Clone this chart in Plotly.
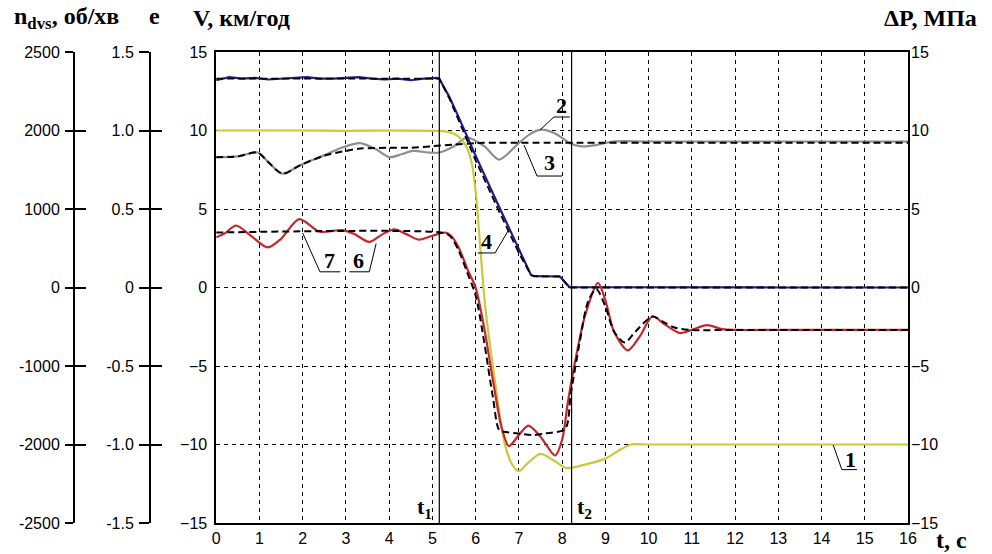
import plotly.graph_objects as go

# ---------------- data ----------------
X_TICKS = list(range(0, 17))
Y_TICKS = [-15, -10, -5, 0, 5, 10, 15]
N_TICKTEXT = ["-2500", "-2000", "-1000", "0", "1000", "2000", "2500"]
E_TICKTEXT = ["-1.5", "-1.0", "-0.5", "0", "0.5", "1.0", "1.5"]
T_MARKS = [5.16, 8.22]

# curve 4 (blue) and its dashed companion
t_blue = [0, 0.3, 0.6, 0.9, 1.2, 1.5, 1.8, 2.1, 2.4, 2.7, 3.0, 3.3, 3.6, 3.9, 4.2,
          4.5, 4.8, 5.1, 5.16, 5.4, 5.6, 6.0, 6.5, 7.0, 7.28, 7.35, 7.95, 8.17,
          9, 10, 11, 12, 13, 14, 15, 16]
v_blue = [13.2, 13.4, 13.3, 13.35, 13.25, 13.3, 13.35, 13.4, 13.3, 13.3, 13.35,
          13.4, 13.3, 13.25, 13.3, 13.2, 13.3, 13.35, 13.3, 12.1, 10.9, 8.4, 5.4,
          2.4, 0.8, 0.72, 0.7, 0.03, 0.02, 0.0, 0.0, 0.0, 0.0, 0.0, 0.0, 0.0]
t_blue_d = [0, 5.16, 5.4, 5.6, 6.0, 6.5, 7.0, 7.28, 7.35, 7.95, 8.17, 16]
v_blue_d = [13.3, 13.3, 12.0, 10.7, 8.1, 5.1, 2.2, 0.8, 0.72, 0.7, 0.0, 0.0]

# curve 1 (yellow)
t_yel = [0, 1, 2, 3, 4, 5, 5.3, 5.5, 5.65, 5.8, 5.92, 6.02, 6.12, 6.23, 6.45,
         6.67, 6.85, 7.0, 7.2, 7.5, 7.8, 8.1, 8.5, 9.0, 9.3, 9.6, 10, 11, 12,
         13, 14, 15, 16]
v_yel = [10.0, 10.0, 10.0, 9.98, 10.0, 9.98, 9.95, 9.8, 9.5, 8.9, 7.8, 5.6, 2.1,
         -1.4, -6.0, -9.9, -11.3, -11.7, -11.2, -10.6, -11.0, -11.5, -11.3,
         -10.9, -10.4, -10.0, -10.0, -10.0, -10.0, -10.0, -10.0, -10.0, -10.0]

# curve 6 (red) and curve 7 (dashed)
t_red = [0, 0.2, 0.46, 0.8, 1.19, 1.5, 1.92, 2.4, 2.92, 3.2, 3.54, 3.85, 4.12,
         4.4, 4.68, 5.0, 5.3, 5.43, 5.6, 5.82, 6.0, 6.2, 6.4, 6.6, 6.77, 7.0,
         7.22, 7.5, 7.84, 8.0, 8.14, 8.33, 8.53, 8.83, 9.0, 9.2, 9.52, 9.8,
         10.09, 10.4, 10.73, 11.0, 11.35, 11.7, 12, 13, 14, 15, 16]
v_red = [3.2, 3.45, 3.95, 3.3, 2.55, 3.1, 4.35, 3.55, 3.66, 3.4, 2.9, 3.4, 3.7,
         3.4, 3.05, 3.3, 3.5, 3.3, 2.6, 1.1, 0.0, -2.6, -5.9, -8.9, -10.1, -9.4,
         -8.8, -9.5, -10.7, -9.7, -7.2, -4.3, -1.8, 0.3, -0.8, -2.8, -4.0,
         -3.1, -1.85, -2.4, -2.9, -2.7, -2.4, -2.65, -2.7, -2.7, -2.7, -2.7, -2.7]
t_red_d = [0, 5.2, 5.4, 5.6, 5.8, 6.0, 6.2, 6.4, 6.55, 6.7, 7.0, 7.3, 7.6, 8.07,
           8.2, 8.4, 8.6, 8.79, 9.0, 9.2, 9.45, 9.7, 10.09, 10.35, 10.6, 11, 12,
           13, 14, 15, 16]
v_red_d = [3.5, 3.5, 3.3, 2.4, 1.0, -0.5, -3.5, -7.0, -9.1, -9.2, -9.3, -9.4,
           -9.3, -9.0, -6.8, -3.6, -0.9, -0.1, -1.2, -2.8, -3.5, -2.8, -1.85,
           -2.2, -2.55, -2.7, -2.7, -2.7, -2.7, -2.7, -2.7]

# curve 2 (gray) and curve 3 (dashed)
t_gray = [0, 0.5, 0.96, 1.2, 1.53, 1.95, 2.3, 2.48, 2.9, 3.33, 3.7, 4.0, 4.3,
          4.55, 4.9, 5.16, 5.5, 5.8, 6.2, 6.54, 7.0, 7.25, 7.5, 7.85, 8.17, 8.4,
          8.79, 9.18, 10, 11, 12, 13, 14, 15, 16]
v_gray = [8.3, 8.35, 8.6, 8.0, 7.25, 7.8, 8.2, 8.4, 8.9, 9.2, 8.8, 8.3, 8.5,
          8.7, 8.6, 8.6, 9.0, 9.55, 9.0, 8.15, 9.2, 9.75, 10.05, 9.8, 9.2, 9.0,
          9.07, 9.3, 9.3, 9.3, 9.3, 9.3, 9.3, 9.3, 9.3]
t_gray_d = [0, 0.5, 0.96, 1.2, 1.53, 1.95, 2.5, 3.0, 3.33, 4.0, 4.5, 5.0, 5.5,
            6.0, 6.5, 7.0, 16]
v_gray_d = [8.3, 8.35, 8.6, 8.0, 7.25, 7.8, 8.4, 8.7, 8.85, 8.9, 8.9, 9.0, 9.1,
            9.2, 9.22, 9.22, 9.22]

# ---------------- styling ----------------
W, H = 992, 554
PX_L, PX_R, PX_T, PX_B = 215, 916, 52, 523
SANS = "Liberation Sans, Arial, sans-serif"
SERIF = "Liberation Serif, Times New Roman, serif"
BLACK = "#000000"


def px(xp):
    return xp / W


def py(yp):
    return (PX_B - yp) / (PX_B - PX_T)


fig = go.Figure()

def line(t, v, color, width=2, dash=None, shape="spline"):
    fig.add_trace(go.Scatter(
        x=t, y=v, mode="lines", showlegend=False, hoverinfo="skip",
        line=dict(color=color, width=width, dash=dash, shape=shape,
                  smoothing=0.8 if shape == "spline" else None)))

line(t_gray, v_gray, "#8e8e8e", 2.2)
line(t_yel, v_yel, "#c9c93a", 2.2)
line(t_blue, v_blue, "#1f1f8c", 2.2, shape="linear")
line(t_red, v_red, "#c8262c", 2.2)
line(t_gray_d, v_gray_d, BLACK, 2, "7px,4px")
line(t_blue_d, v_blue_d, BLACK, 1.8, "7px,4px", shape="linear")
line(t_red_d, v_red_d, BLACK, 2, "7px,4px")

# empty traces so the extra axes get drawn
for ax in ["y2", "y3", "y4", "y5", "y6"]:
    fig.add_trace(go.Scatter(x=[None], y=[None], yaxis=ax, showlegend=False,
                             hoverinfo="skip", mode="lines"))

tickfont = dict(family=SANS, size=16, color=BLACK)
grid = dict(showgrid=True, gridcolor=BLACK, gridwidth=1, griddash="4px,4px")

fig.update_layout(
    width=W, height=H, paper_bgcolor="white", plot_bgcolor="white",
    margin=dict(l=0, r=0, t=PX_T, b=H - PX_B, pad=0),
    xaxis=dict(domain=[px(PX_L), px(PX_R)], range=[0, 16], tickvals=X_TICKS,
               showline=True, linecolor=BLACK, linewidth=1.5, mirror=True,
               ticks="", tickfont=tickfont, zeroline=False, **grid),
    yaxis=dict(range=[-15, 15], tickvals=Y_TICKS, showline=True, linecolor=BLACK,
               linewidth=1.5, mirror=True, ticks="", tickfont=tickfont,
               zeroline=False, ticklabelstandoff=4, **grid),
    yaxis2=dict(range=[-15, 15], tickvals=Y_TICKS, overlaying="y", side="right",
                showgrid=False, zeroline=False, ticks="", tickfont=tickfont,
                showline=False, ticklabelstandoff=2),
    yaxis3=dict(range=[-15, 15], tickvals=Y_TICKS, ticktext=N_TICKTEXT,
                overlaying="y", anchor="free", position=px(70.7), side="left",
                showgrid=False, zeroline=False, showline=True, linecolor=BLACK,
                linewidth=1.5, ticks="outside", ticklen=8, tickwidth=1.5,
                tickcolor=BLACK, tickfont=tickfont, ticklabelstandoff=2),
    yaxis4=dict(range=[-15, 15], tickvals=Y_TICKS, overlaying="y", anchor="free",
                position=px(70.7), side="left", showgrid=False, zeroline=False,
                showline=False, ticks="inside", ticklen=11, tickwidth=1.5,
                tickcolor=BLACK, showticklabels=False),
    yaxis5=dict(range=[-15, 15], tickvals=Y_TICKS, ticktext=E_TICKTEXT,
                overlaying="y", anchor="free", position=px(147.7), side="left",
                showgrid=False, zeroline=False, showline=True, linecolor=BLACK,
                linewidth=1.5, ticks="outside", ticklen=10, tickwidth=1.5,
                tickcolor=BLACK, tickfont=tickfont, ticklabelstandoff=2),
    yaxis6=dict(range=[-15, 15], tickvals=Y_TICKS, overlaying="y", anchor="free",
                position=px(147.7), side="left", showgrid=False, zeroline=False,
                showline=False, ticks="inside", ticklen=11, tickwidth=1.5,
                tickcolor=BLACK, showticklabels=False),
)

# t1 / t2 vertical markers
for tm in T_MARKS:
    fig.add_shape(type="line", xref="x", yref="paper", x0=tm, x1=tm, y0=0, y1=1,
                  line=dict(color=BLACK, width=1.2))

def ptext(text, xp, yp, anchor="left", size=24):
    fig.add_annotation(text=text, xref="paper", yref="paper", x=px(xp), y=py(yp),
                       xanchor=anchor, yanchor="middle", showarrow=False,
                       font=dict(family=SERIF, size=size, color=BLACK))

ptext("<b>n<sub>dvs</sub>, об/хв</b>", 8, 18)
ptext("<b>e</b>", 152, 16, "center")
ptext("<b>V, км/год</b>", 189, 18)
ptext("<b>ΔP, МПа</b>", 988, 18, "right")
ptext("<b>t, c</b>", 942, 540)
ptext("<b>t<sub>1</sub></b>", 416, 508, size=22)
ptext("<b>t<sub>2</sub></b>", 579, 508, size=22)

# curve labels with leader lines (data coordinates)
def clabel(text, x, y):
    fig.add_annotation(text="<b>%s</b>" % text, x=x, y=y, xref="x", yref="y",
                       showarrow=False, font=dict(family=SERIF, size=22, color=BLACK))

def leader(pts):
    d = "M %s,%s " % pts[0] + " ".join("L %s,%s" % p for p in pts[1:])
    fig.add_shape(type="path", xref="x", yref="y", path=d,
                  line=dict(color=BLACK, width=1))

clabel("2", 7.98, 11.6)
leader([(7.49, 10.03), (7.81, 10.86), (8.18, 10.86)])
clabel("3", 7.72, 7.95)
leader([(7.12, 9.07), (7.42, 7.1), (8.0, 7.1)])
clabel("7", 2.62, 1.75)
leader([(2.0, 3.47), (2.40, 1.0), (2.87, 1.0)])
clabel("6", 3.28, 1.75)
leader([(3.08, 1.0), (3.54, 1.0), (3.70, 2.8)])
clabel("4", 6.25, 2.95)
leader([(6.05, 2.2), (6.45, 2.2), (6.75, 3.6)])
clabel("1", 14.66, -10.95)
leader([(14.27, -10.03), (14.47, -11.6), (14.82, -11.6)])

fig.write_html("out.html", config={"displayModeBar": False},
               post_script="document.body.style.margin='0px';"
                           "document.body.style.overflow='hidden';")
